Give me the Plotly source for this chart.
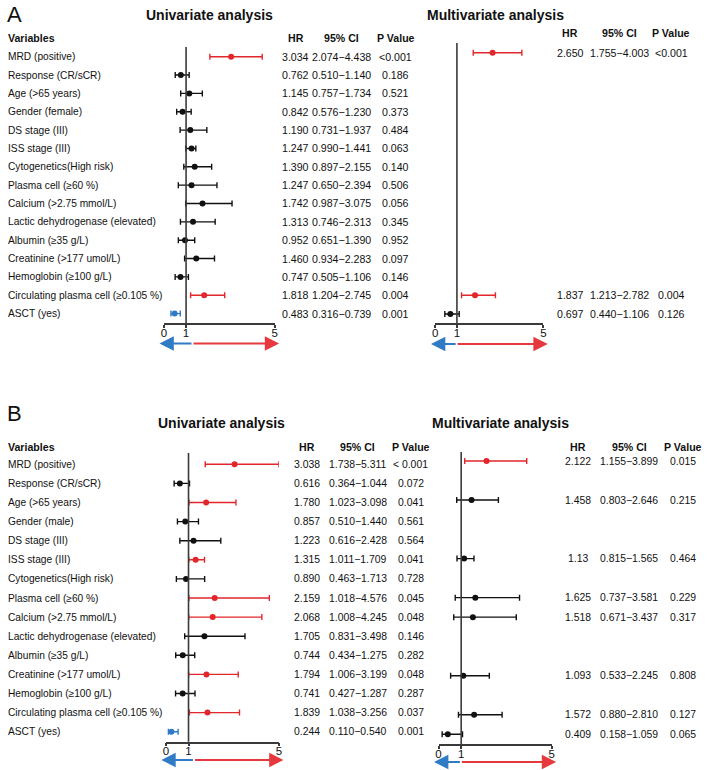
import plotly.graph_objects as go

W, H = 708, 770

variables_A = ["MRD (positive)", "Response (CR/sCR)", "Age (>65 years)", "Gender (female)",
               "DS stage (III)", "ISS stage (III)", "Cytogenetics(High risk)", "Plasma cell (≥60 %)",
               "Calcium (>2.75 mmol/L)", "Lactic dehydrogenase (elevated)", "Albumin (≥35 g/L)",
               "Creatinine (>177 umol/L)", "Hemoglobin (≥100 g/L)", "Circulating plasma cell (≥0.105 %)",
               "ASCT (yes)"]
variables_B = ["MRD (positive)", "Response (CR/sCR)", "Age (>65 years)", "Gender (male)",
               "DS stage (III)", "ISS stage (III)", "Cytogenetics(High risk)", "Plasma cell (≥60 %)",
               "Calcium (>2.75 mmol/L)", "Lactic dehydrogenase (elevated)", "Albumin (≥35 g/L)",
               "Creatinine (>177 umol/L)", "Hemoglobin (≥100 g/L)", "Circulating plasma cell (≥0.105 %)",
               "ASCT (yes)"]

A_uni_hr = ["3.034", "0.762", "1.145", "0.842", "1.190", "1.247", "1.390", "1.247", "1.742",
            "1.313", "0.952", "1.460", "0.747", "1.818", "0.483"]
A_uni_ci = ["2.074-4.438", "0.510-1.140", "0.757-1.734", "0.576-1.230", "0.731-1.937",
            "0.990-1.441", "0.897-2.155", "0.650-2.394", "0.987-3.075", "0.746-2.313",
            "0.651-1.390", "0.934-2.283", "0.505-1.106", "1.204-2.745", "0.316-0.739"]
A_uni_p = ["<0.001", "0.186", "0.521", "0.373", "0.484", "0.063", "0.140", "0.506", "0.056",
           "0.345", "0.952", "0.097", "0.146", "0.004", "0.001"]

A_mul_hr = ["2.650", None, None, None, None, None, None, None, None, None, None, None, None,
            "1.837", "0.697"]
A_mul_ci = ["1.755-4.003", None, None, None, None, None, None, None, None, None, None, None, None,
            "1.213-2.782", "0.440-1.106"]
A_mul_p = ["<0.001", None, None, None, None, None, None, None, None, None, None, None, None,
           "0.004", "0.126"]

B_uni_hr = ["3.038", "0.616", "1.780", "0.857", "1.223", "1.315", "0.890", "2.159", "2.068",
            "1.705", "0.744", "1.794", "0.741", "1.839", "0.244"]
B_uni_ci = ["1.738-5.311", "0.364-1.044", "1.023-3.098", "0.510-1.440", "0.616-2.428",
            "1.011-1.709", "0.463-1.713", "1.018-4.576", "1.008-4.245", "0.831-3.498",
            "0.434-1.275", "1.006-3.199", "0.427-1.287", "1.038-3.256", "0.110-0.540"]
B_uni_p = ["< 0.001", "0.072", "0.041", "0.561", "0.564", "0.041", "0.728", "0.045", "0.048",
           "0.146", "0.282", "0.048", "0.287", "0.037", "0.001"]

B_mul_hr = ["2.122", None, "1.458", None, None, "1.13", None, "1.625", "1.518", None, None,
            "1.093", None, "1.572", "0.409"]
B_mul_ci = ["1.155-3.899", None, "0.803-2.646", None, None, "0.815-1.565", None, "0.737-3.581",
            "0.671-3.437", None, None, "0.533-2.245", None, "0.880-2.810", "0.158-1.059"]
B_mul_p = ["0.015", None, "0.215", None, None, "0.464", None, "0.229", "0.317", None, None,
           "0.808", None, "0.127", "0.065"]

x_ticks = [0, 1, 5]
x_range = [0, 5]

RED = "#e3262b"
BLUE = "#2f7bc4"
BLACK = "#111111"
AXIS = "#3a3a3a"
FONT = "Arial, Liberation Sans, sans-serif"


def px(xp):
    return xp / W


def py(yp):
    return 1 - yp / H


# layout geometry (pixels)
panels = [
    dict(hr=A_uni_hr, ci=A_uni_ci, p=A_uni_p, x0=162.3, x1=274.0, axis_y=323,
         top=47, row0=56.7, dy=18.35, title="Univariate analysis", title_x=208, title_y=15,
         head_y=38, cols=(295, 341, 396), numsize=10.6, arrow_mid=1.3, arrow_y=343.5),
    dict(hr=A_mul_hr, ci=A_mul_ci, p=A_mul_p, x0=436.0, x1=545.0, axis_y=323,
         top=43, row0=52.7, dy=18.66, title="Multivariate analysis", title_x=497, title_y=15,
         head_y=33, cols=(572, 622, 674), numsize=10.6, arrow_mid=1.0, arrow_y=344),
    dict(hr=B_uni_hr, ci=B_uni_ci, p=B_uni_p, x0=164.3, x1=278.3, axis_y=741.7,
         top=453, row0=464.3, dy=19.1, title="Univariate analysis", title_x=220, title_y=423,
         head_y=447, cols=(306.5, 358, 411), numsize=10.4, arrow_mid=1.25, arrow_y=760),
    dict(hr=B_mul_hr, ci=B_mul_ci, p=B_mul_p, x0=439.3, x1=553.3, axis_y=744.3,
         top=452, row0=461, dy=19.52, title="Multivariate analysis", title_x=502, title_y=423,
         head_y=446.7, cols=(580, 631.5, 686), numsize=10.4, arrow_mid=1.0, arrow_y=762),
]

fig = go.Figure()
annotations = []
shapes = []
layout_axes = {}


def pval(s):
    return float(s.replace("<", "").replace(" ", ""))


for k, P in enumerate(panels):
    idx = "" if k == 0 else str(k + 1)
    xa, ya = "x" + idx, "y" + idx
    ymin = (P["axis_y"] - P["row0"]) / P["dy"]
    ymax = (P["top"] - P["row0"]) / P["dy"]
    layout_axes["xaxis" + idx] = dict(
        domain=[px(P["x0"]), px(P["x1"])], range=x_range, anchor=ya, tickvals=x_ticks,
        ticktext=[str(t) for t in x_ticks], showline=True, linecolor=AXIS, linewidth=1.5,
        ticks="outside", ticklen=3, tickwidth=1.5, tickcolor=AXIS, showgrid=False,
        ticklabelstandoff=-5,
        zeroline=False, tickfont=dict(family=FONT, size=11.5, color="#111"), fixedrange=True)
    layout_axes["yaxis" + idx] = dict(
        domain=[py(P["axis_y"]), py(P["top"])], range=[ymin, ymax], anchor=xa, visible=False,
        showgrid=False, zeroline=False, fixedrange=True)

    # group rows by colour
    groups = {RED: [], BLUE: [], BLACK: []}
    for i, (h, c, pv) in enumerate(zip(P["hr"], P["ci"], P["p"])):
        if h is None:
            continue
        hv = float(h)
        lo, hi = [float(v) for v in c.split("-")]
        sig = pval(pv) < 0.05
        col = (RED if hv > 1 else BLUE) if sig else BLACK
        groups[col].append((i, hv, lo, min(hi, x_range[1])))
    for col, rows in groups.items():
        if not rows:
            continue
        fig.add_trace(go.Scatter(
            x=[r[1] for r in rows], y=[r[0] for r in rows], mode="markers",
            marker=dict(color=col, size=6),
            error_x=dict(type="data", symmetric=False,
                         array=[r[3] - r[1] for r in rows],
                         arrayminus=[r[1] - r[2] for r in rows],
                         color=col, thickness=1.4, width=3),
            xaxis=xa, yaxis=ya, showlegend=False, hoverinfo="skip"))

    # reference line at HR = 1
    shapes.append(dict(type="line", xref=xa, yref=ya + " domain", x0=1, x1=1, y0=0, y1=1,
                       line=dict(color=AXIS, width=1.6), layer="above"))

    # titles / headers
    annotations.append(dict(text="<b>%s</b>" % P["title"], xref="paper", yref="paper",
                            x=px(P["title_x"]), y=py(P["title_y"]), xanchor="center",
                            yanchor="middle", showarrow=False,
                            font=dict(family=FONT, size=14, color="#111")))
    for label, cx in zip(["HR", "95% CI", "P Value"], P["cols"]):
        annotations.append(dict(text="<b>%s</b>" % label, xref="paper", yref="paper",
                                x=px(cx), y=py(P["head_y"]), xanchor="center", yanchor="middle",
                                showarrow=False, font=dict(family=FONT, size=10.6, color="#111")))
    for i, (h, c, pv) in enumerate(zip(P["hr"], P["ci"], P["p"])):
        if h is None:
            continue
        for txt, cx in zip([h, c.replace("-", "−"), pv], P["cols"]):
            annotations.append(dict(text=txt, xref="paper", yref=ya, x=px(cx), y=i,
                                    xanchor="center", yanchor="middle", showarrow=False,
                                    font=dict(family=FONT, size=P["numsize"], color="#111")))

    # direction arrows below the axis (paper coords, derived from the axis scale)
    ppu = (P["x1"] - P["x0"]) / (x_range[1] - x_range[0])
    for tip, col in [(-0.2, BLUE), (5.2, "#e5393d")]:
        annotations.append(dict(text="", x=px(P["x0"] + tip * ppu), y=py(P["arrow_y"]),
                                xref="paper", yref="paper", ax=(P["arrow_mid"] - tip) * ppu, ay=0,
                                showarrow=True, arrowhead=2, arrowsize=1.3, arrowwidth=2.2,
                                arrowcolor=col))

# row labels and panel letters
for vars_, P, letter, ly, yax in [(variables_A, panels[0], "A", 14, "y"),
                                  (variables_B, panels[2], "B", 413, "y3")]:
    annotations.append(dict(text=letter, xref="paper", yref="paper", x=px(2), y=py(ly),
                            xanchor="left", yanchor="middle", showarrow=False,
                            font=dict(family=FONT, size=22, color="#111")))
    annotations.append(dict(text="<b>Variables</b>", xref="paper", yref="paper", x=px(3),
                            y=py(P["head_y"]), xanchor="left", yanchor="middle", showarrow=False,
                            font=dict(family=FONT, size=10.6, color="#111")))
    for i, v in enumerate(vars_):
        annotations.append(dict(text=v, xref="paper", yref=yax, x=px(3), y=i, xanchor="left",
                                yanchor="middle", showarrow=False,
                                font=dict(family=FONT, size=10.2, color="#111")))

fig.update_layout(width=W, height=H, margin=dict(l=0, r=0, t=0, b=0), paper_bgcolor="white",
                  plot_bgcolor="white", annotations=annotations, shapes=shapes,
                  showlegend=False, **layout_axes)

fig.write_html("out.html", config={"displayModeBar": False},
               post_script="document.body.style.margin='0';document.body.style.overflow='hidden';")
